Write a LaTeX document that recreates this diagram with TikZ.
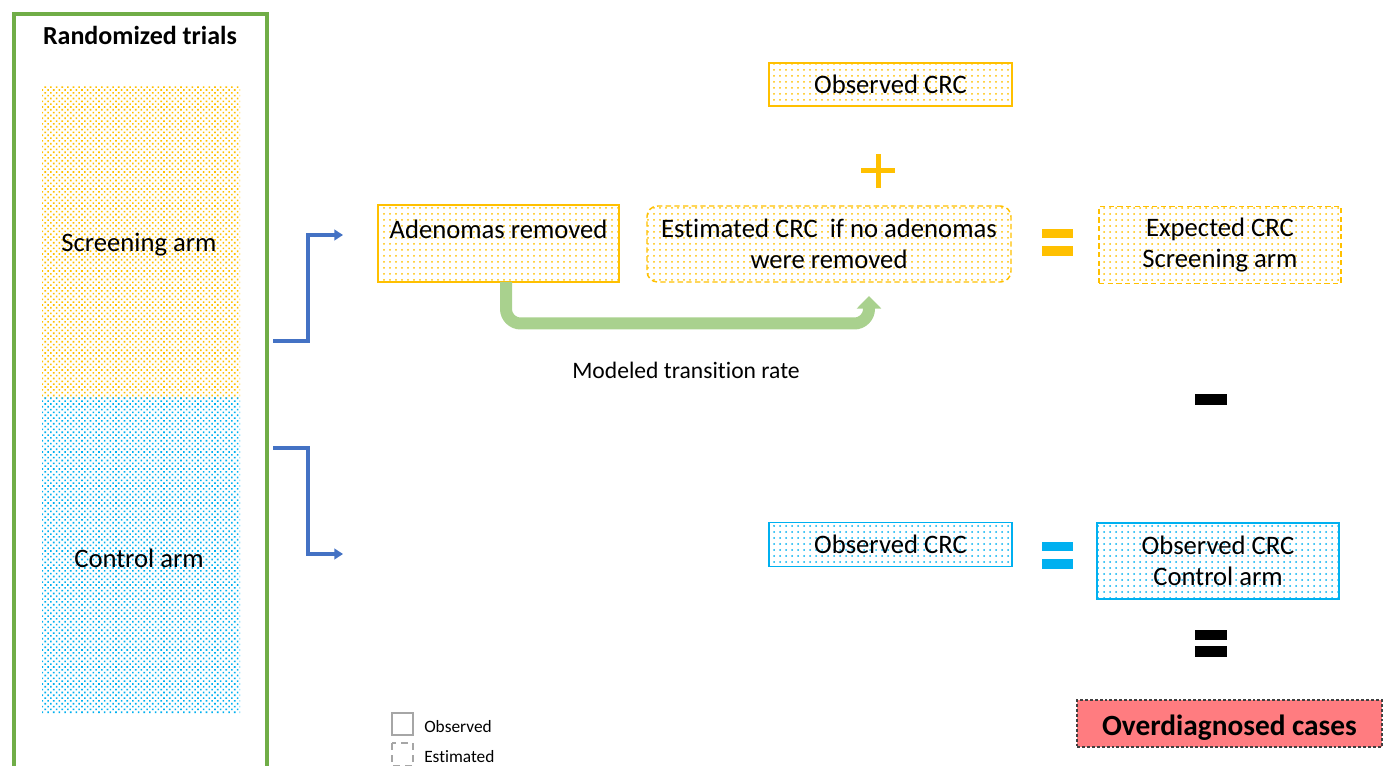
\documentclass[tikz,border=0pt]{standalone}
\usepackage{fontspec}
\setmainfont{Carlito}[Ligatures=CommonOff]
\usetikzlibrary{patterns.meta,arrows.meta}
\definecolor{gold}{HTML}{FFC000}
\definecolor{sky}{HTML}{00B0F0}
\definecolor{framegreen}{HTML}{70AD47}
\definecolor{lgreen}{HTML}{A9D18E}
\definecolor{arrblue}{HTML}{4472C4}
\definecolor{salmon}{HTML}{FF7C80}
\definecolor{legendgrey}{HTML}{A6A6A6}
\tikzset{
  txt/.style={font=\fontsize{20}{23.5}\selectfont, align=center, inner sep=0pt},
  box/.style={txt, draw, line width=1.1pt, outer sep=0pt,
    minimum width=#1},
  goldfill/.style={pattern={Dots[distance=4.5pt, radius=0.75pt]}, pattern color=gold},
  skyfill/.style={pattern={Dots[distance=4.5pt, radius=0.75pt]}, pattern color=sky},
  goldsolid/.style={goldfill, draw=gold},
  golddash/.style={goldfill, draw=gold, dash pattern=on 4pt off 2.5pt},
  skysolid/.style={skyfill, draw=sky},
  bluearrow/.style={draw=arrblue, line width=2.8pt, -{Triangle[length=6.5pt,width=8pt]}},
}
\begin{document}
\begin{tikzpicture}[x=0.75pt,y=-0.75pt]
\useasboundingbox (0,0) rectangle (1389,766);

% left panel
\draw[framegreen, line width=3.2pt] (14,775) -- (14,14) -- (267,14) -- (267,775);
\node[txt, font=\fontsize{19.5}{23.5}\selectfont\bfseries] (title) at (140,35) {Randomized trials};
\fill[pattern={Dots[distance=3pt, radius=0.85pt, angle=45]}, pattern color=gold] (42,87) rectangle (240,398);
\fill[pattern={Dots[distance=3pt, radius=0.85pt, angle=45]}, pattern color=sky] (42,398) rectangle (240,713);
\node[txt] (scr) at (139,245) {Screening arm};
\node[txt] (ctl) at (139,558) {Control arm};

% blue elbow arrows
\coordinate (s1) at (273,341);
\coordinate (e1) at (343,235);
\coordinate (s2) at (273,448);
\coordinate (e2) at (343,554);
\draw[bluearrow] (s1) -- (308,341) -- (308,235) -- (e1);
\draw[bluearrow] (s2) -- (308,448) -- (308,554) -- (e2);

% screening boxes
\node[box=241*0.75pt, goldsolid, minimum height=77*0.75pt] (adeno) at (498.5,243.5) {Adenomas removed\\[-9pt]\strut};
\node[box=364*0.75pt, golddash, rounded corners=8pt, minimum height=76*0.75pt] (est) at (829,244) {Estimated CRC\ \ if no adenomas\\were removed};
\node[box=243*0.75pt, goldsolid, minimum height=43*0.75pt] (obsT) at (890.5,84.5) {Observed CRC};
\node[box=242*0.75pt, golddash, minimum height=77*0.75pt] (expS) at (1220,245) {Expected CRC\\Screening arm};

% control boxes
\node[box=243*0.75pt, skysolid, minimum height=44*0.75pt] (obsC) at (890.5,544.5) {Observed CRC};
\node[box=242*0.75pt, skysolid, minimum height=76*0.75pt] (obsCA) at (1218,561) {Observed CRC\\Control arm};

% green transition arrow
\coordinate (g1) at ([xshift=7.5*0.75pt]adeno.south);
\coordinate (g2) at (869,296);
\draw[lgreen, line width=9pt, rounded corners=11pt, -{Triangle[length=9.5pt,width=18pt]}]
  (g1) |- (869,323.5) -- (g2);
\node[txt, font=\fontsize{17.7}{20}\selectfont] (model) at (686,370) {Modeled transition rate};

% plus sign
\fill[gold] (861,168.5) rectangle (895,173.5);
\fill[gold] (875.5,154) rectangle (880.5,188);
% equals signs
\fill[gold] (1042,229) rectangle (1073,238);
\fill[gold] (1042,246) rectangle (1073,256);
\fill[sky] (1042,542) rectangle (1073,551);
\fill[sky] (1042,559) rectangle (1073,569);
% minus and equals (black)
\fill[black] (1195,394) rectangle (1227,405);
\fill[black] (1195,630) rectangle (1227,640);
\fill[black] (1195,646) rectangle (1227,657);

% result
\node[box=305*0.75pt, fill=salmon, draw=black!75, line width=0.9pt, dash pattern=on 2.2pt off 1.5pt, minimum height=47*0.75pt, text height=22pt, text depth=4.4pt, font=\fontsize{22}{26}\selectfont\bfseries] (over) at (1229.5,723.5) {Overdiagnosed cases};

% legend
\draw[legendgrey, line width=1.1pt] (392,713) rectangle (413,735);
\node[txt, anchor=west, font=\fontsize{13}{15}\selectfont] (lobs) at (424,727) {Observed};
\draw[legendgrey, line width=1.1pt, dash pattern=on 5pt off 4pt] (392,743) rectangle (413,766);
\node[txt, anchor=west, font=\fontsize{13}{15}\selectfont] (lest) at (424,757) {Estimated};
\end{tikzpicture}
\end{document}
